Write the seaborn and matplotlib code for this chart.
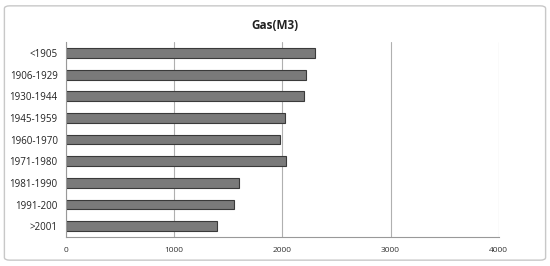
import matplotlib
matplotlib.use("Agg")
import matplotlib.pyplot as plt
import seaborn as sns
import pandas as pd
import numpy as np
from matplotlib.patches import FancyBboxPatch

categories = ["<1905", "1906-1929", "1930-1944", "1945-1959", "1960-1970",
              "1971-1980", "1981-1990", "1991-200", ">2001"]
values = [2300, 2220, 2200, 2020, 1980, 2030, 1600, 1550, 1400]
x_ticks = [0, 1000, 2000, 3000, 4000]
title = "Gas(M3)"

df = pd.DataFrame({"period": categories, "gas": values})

sns.set_style("white")
plt.rcParams['font.family'] = ['Open Sans', 'DejaVu Sans']

fig = plt.figure(figsize=(5.5, 2.66), dpi=100)
ax = fig.add_axes([0.12, 0.109, 0.787, 0.733])

sns.barplot(data=df, y="period", x="gas", orient="h", ax=ax, color="#7a7a7a",
            edgecolor="#3a3a3a", linewidth=0.8, width=0.46, saturation=1)

ax.set_xlim(0, 4000)
ax.set_xticks(x_ticks)
ax.set_xticklabels([str(t) for t in x_ticks], fontsize=6, color="#333333")
ax.set_ylim(len(categories) - 0.5, -0.5)
ax.tick_params(axis="y", which="major", length=0, labelsize=7, colors="#222222", pad=6)
ax.set_yticks(np.arange(-0.5, len(categories), 1.0), minor=True)
ax.tick_params(axis="y", which="minor", length=4, color="#999999", width=0.8)
ax.tick_params(axis="x", which="major", length=4, color="#999999", width=0.8, direction="out", pad=3)
ax.xaxis.grid(True, color="#b0b0b0", linewidth=0.8)
ax.set_axisbelow(True)
ax.set_xlabel("")
ax.set_ylabel("")
for s in ["top", "right"]:
    ax.spines[s].set_visible(False)
for s in ["left", "bottom"]:
    ax.spines[s].set_color("#999999")
    ax.spines[s].set_linewidth(0.8)

fig.text(0.5, 0.905, title, ha="center", va="center", fontsize=8.5, fontweight="bold", color="#222222")

border = FancyBboxPatch((0.008, 0.022), 0.984, 0.956, boxstyle="round,pad=0,rounding_size=0.01",
                        transform=fig.transFigure, fill=False, edgecolor="#c8c8c8", linewidth=1.0)
fig.patches.append(border)

fig.savefig("out.png", dpi=100)
